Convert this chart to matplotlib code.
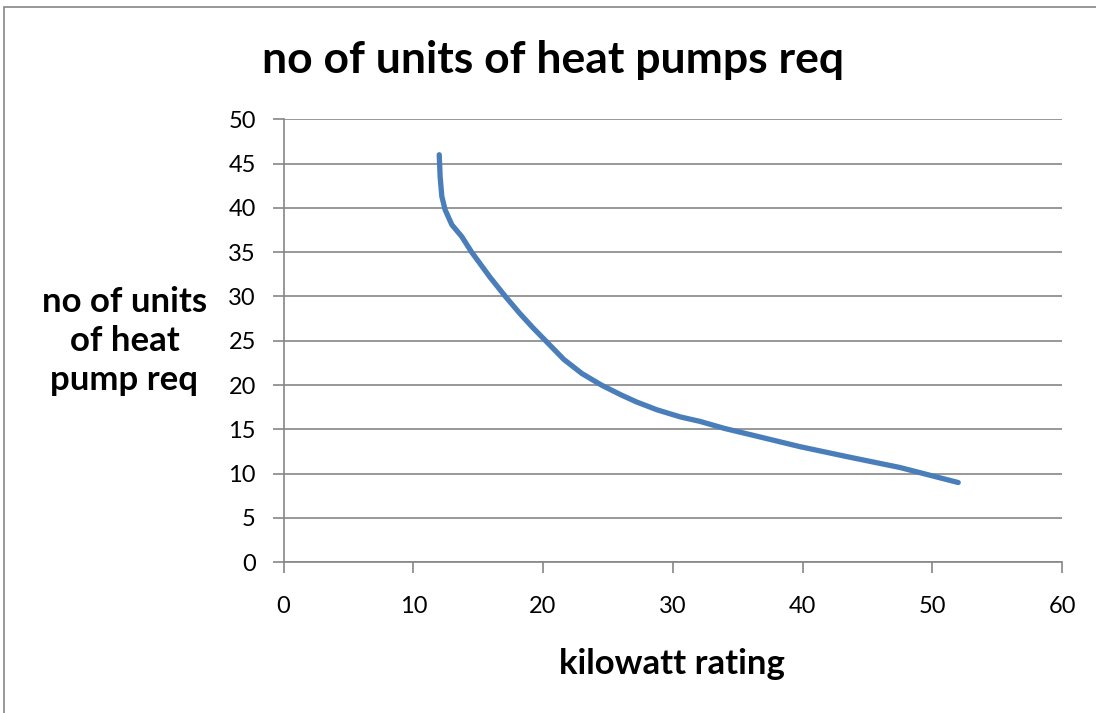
import numpy as np
import matplotlib
matplotlib.use('Agg')
import matplotlib.pyplot as plt
from matplotlib.patches import Rectangle

# values
kw_rating = [12.0, 12.07, 12.2, 12.45, 12.97, 13.74, 14.5, 15.9, 17.1, 18.2, 19.2,
             20.2, 21.6, 23.0, 24.5, 26.0, 27.2, 28.8, 30.6, 32.1, 34.0, 36.0,
             39.8, 43.5, 47.5, 52.0]
units_req = [46.0, 43.5, 41.3, 39.8, 38.1, 36.75, 35.0, 32.2, 30.0, 28.1, 26.5,
             25.0, 22.9, 21.3, 20.0, 18.9, 18.1, 17.2, 16.4, 15.9, 15.1, 14.4,
             13.05, 11.9, 10.7, 9.0]
xticks = [0, 10, 20, 30, 40, 50, 60]
yticks = [0, 5, 10, 15, 20, 25, 30, 35, 40, 45, 50]

plt.rcParams['font.family'] = ['Lato', 'DejaVu Sans']
grey = '#868686'

fig = plt.figure(figsize=(10.96, 7.13), dpi=100)
ax = fig.add_axes([0.2587, 0.2114, 0.969 - 0.2587, 0.8327 - 0.2114])

# chart area border
fig.patches.append(Rectangle((3.5 / 1096, -0.1), 1.2, 1 - 7 / 713 + 0.1,
                             transform=fig.transFigure, fill=False,
                             edgecolor=grey, linewidth=1.2))

ax.plot(kw_rating, units_req, color='#4A7EBB', linewidth=3.8,
        solid_capstyle='round', solid_joinstyle='round', zorder=3)

ax.set_xlim(0, 60)
ax.set_ylim(0, 50)
ax.set_xticks(xticks)
ax.set_yticks(yticks)
ax.yaxis.grid(True, color=grey, linewidth=1.2)
ax.set_axisbelow(True)
for s in ['top', 'right']:
    ax.spines[s].set_visible(False)
for s in ['left', 'bottom']:
    ax.spines[s].set_color(grey)
    ax.spines[s].set_linewidth(1.2)
ax.tick_params(axis='both', colors=grey, direction='out', length=8, width=1.2,
               labelsize=17, labelcolor='black')
ax.tick_params(axis='x', pad=16)
ax.tick_params(axis='y', pad=12)

fig.text(553 / 1096, 1 - 60 / 713, 'no of units of heat pumps req',
         ha='center', va='center', fontsize=32, fontweight='bold')
fig.text(672 / 1096, 1 - 664 / 713, 'kilowatt rating',
         ha='center', va='center', fontsize=25, fontweight='bold')
fig.text(124.5 / 1096, 1 - 341 / 713, 'no of units\nof heat\npump req',
         ha='center', va='center', fontsize=25, fontweight='bold',
         linespacing=1.25)

fig.savefig('out.png', dpi=100)
